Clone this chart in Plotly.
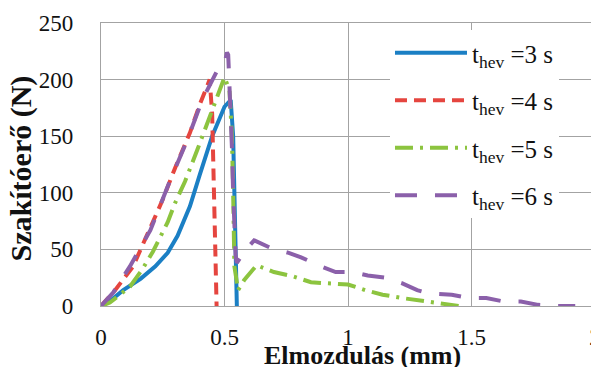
import plotly.graph_objects as go

# t_hev = 3 s
x3 = [0, 0.04, 0.09, 0.16, 0.22, 0.27, 0.31, 0.36, 0.40, 0.45, 0.50, 0.525, 0.535, 0.545, 0.55]
y3 = [0, 5, 14, 24, 35, 47, 62, 88, 116, 150, 176, 182, 150, 70, 0]

# t_hev = 4 s
x4 = [0, 0.057, 0.13, 0.19, 0.25, 0.30, 0.36, 0.40, 0.44, 0.45, 0.455, 0.46, 0.468]
y4 = [0, 14, 35, 64, 94, 122, 153, 178, 200, 170, 120, 60, 0]

# t_hev = 5 s
x5 = [0, 0.036, 0.117, 0.166, 0.21, 0.27, 0.30, 0.34, 0.39, 0.42, 0.45, 0.50, 0.52, 0.53,
      0.535, 0.54, 0.555, 0.58, 0.63, 0.70, 0.78, 0.85, 0.92, 1.0, 1.07, 1.14, 1.22, 1.29, 1.37, 1.45]
y5 = [0, 3, 17, 32, 48, 74, 91, 110, 138, 156, 173, 202, 191, 150,
      100, 35, 14, 23, 36, 30, 26, 21, 20, 19, 14, 10, 7, 5, 2, 0]

# t_hev = 6 s
x6 = [0, 0.05, 0.117, 0.2, 0.28, 0.35, 0.41, 0.475, 0.50, 0.51, 0.515, 0.52, 0.525, 0.53,
      0.535, 0.54, 0.545, 0.55, 0.58, 0.62, 0.69, 0.76, 0.81, 0.88, 0.95, 1.02, 1.08, 1.15,
      1.22, 1.28, 1.33, 1.42, 1.49, 1.56, 1.63, 1.70, 1.77, 1.85, 1.92]
y6 = [0, 12, 35, 67, 111, 147, 182, 210, 214, 224, 222, 200, 175, 140,
      100, 70, 45, 38, 48, 58, 51, 47, 43, 36, 30, 30, 27, 25,
      20, 14, 11, 10, 7, 7, 4, 4, 1, 0, 0]

names = ["t<sub>hev</sub> =3 s", "t<sub>hev</sub> =4 s", "t<sub>hev</sub> =5 s", "t<sub>hev</sub> =6 s"]
xs = [x3, x4, x5, x6]
ys = [y3, y4, y5, y6]
colors = ["#1B7FC4", "#E5453F", "#8CC43F", "#8B60AA"]
dashes = ["solid", "12px,7px", "18px,7px,3px,7px", "22px,18px"]

FONT = "Liberation Serif"
TXT = "#111111"

fig = go.Figure()
for i in range(4):
    fig.add_trace(go.Scatter(
        x=xs[i], y=ys[i], mode="lines", name=names[i],
        legendgroup=str(i),
        line=dict(color=colors[i], width=4, dash=dashes[i]),
    ))

grid = "#A3A3A3"
fig.update_layout(
    width=599, height=367,
    margin=dict(l=93, r=12, t=15, b=69, autoexpand=False),
    paper_bgcolor="white", plot_bgcolor="white",
    font=dict(family=FONT, size=22, color=TXT),
    showlegend=True,
    legend=dict(
        x=0.585, y=0.975, xanchor="left", yanchor="top",
        bgcolor="white", borderwidth=0,
        font=dict(family=FONT, size=25, color=TXT),
        tracegroupgap=12, itemwidth=72,
    ),
    xaxis=dict(
        range=[0, 2], tickvals=[0, 0.5, 1, 1.5, 2],
        ticktext=["0", "0.5", "1", "1.5", "2"],
        showgrid=True, gridcolor=grid, gridwidth=1.3,
        showline=True, linecolor=grid, linewidth=1.3, mirror=True,
        zeroline=False, ticks="", ticklabelstandoff=10,
        tickfont=dict(family=FONT, size=23, color=TXT),
    ),
    yaxis=dict(
        range=[0, 250], tickvals=[0, 50, 100, 150, 200, 250],
        showgrid=True, gridcolor=grid, gridwidth=1.3,
        showline=True, linecolor=grid, linewidth=1.3, mirror=True,
        zeroline=False, ticks="", ticklabelstandoff=22,
        tickfont=dict(family=FONT, size=23, color=TXT),
    ),
    annotations=[
        dict(text="<b>Elmozdulás (mm)</b>", xref="paper", yref="paper",
             x=0.53, y=-0.118, xanchor="center", yanchor="top", showarrow=False,
             font=dict(family=FONT, size=26, color=TXT)),
        dict(text="<b>Szakítóerő (N)</b>", xref="paper", yref="paper",
             x=-0.16, y=0.486, xanchor="center", yanchor="middle", showarrow=False,
             textangle=-90, font=dict(family=FONT, size=30, color=TXT)),
    ],
)

fig.write_html("out.html")
